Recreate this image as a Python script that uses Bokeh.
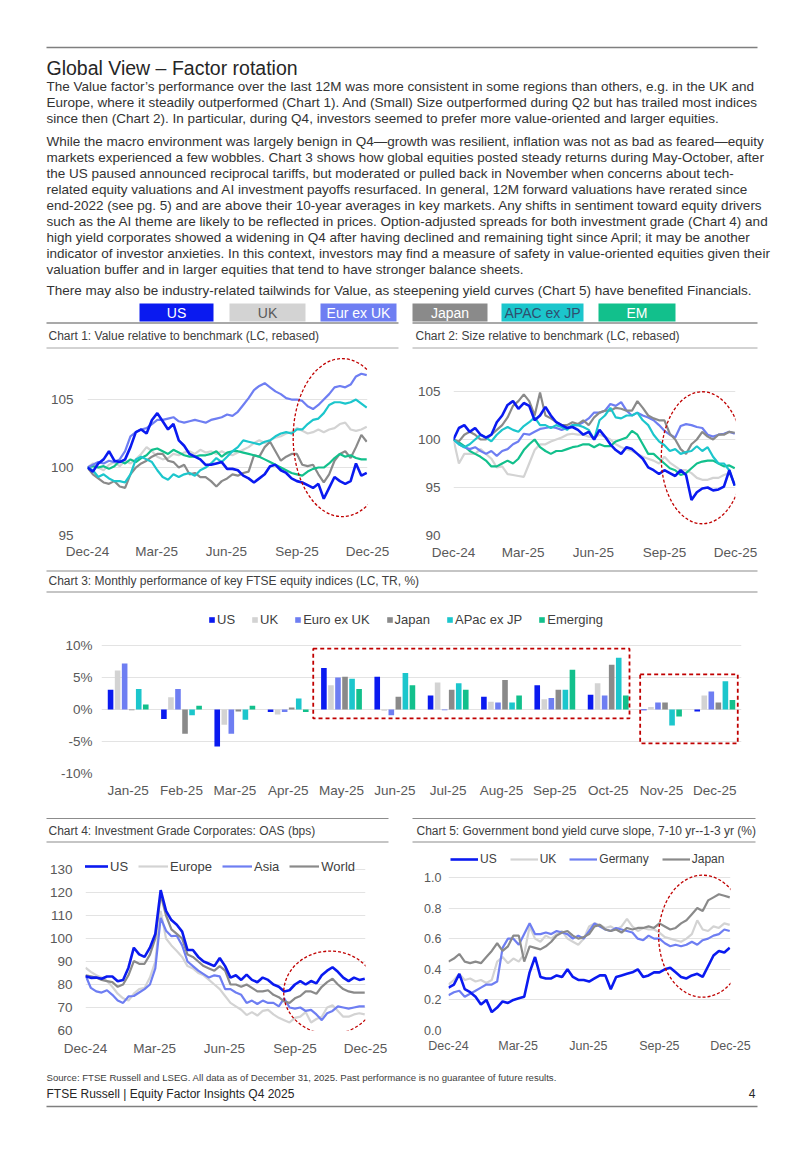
import datetime as dt
import pandas as pd
from bokeh.plotting import figure
from bokeh.layouts import column, row
from bokeh.models import (Range1d, FixedTicker, DatetimeTickFormatter, Legend, LegendItem,
                          BoxAnnotation, ColumnDataSource, FactorRange, PrintfTickFormatter)
from bokeh.transform import dodge
from bokeh.core.properties import value
from bokeh.embed import file_html
from bokeh.resources import INLINE

# ---------------------------------------------------------------- data
WEEKS = pd.date_range("2024-12-31", periods=53, freq="7D")
QTR_TICKS = ["2024-12-31", "2025-03-31", "2025-06-30", "2025-09-30", "2025-12-31"]

# Chart 1: Value relative to benchmark
US1 = [100.0, 99.7, 100.3, 100.6, 101.2, 100.5, 100.4, 100.6, 101.5, 102.6, 102.8, 102.5, 103.5, 104.0, 103.4, 102.8, 103.2, 102.0, 101.6, 101.0, 100.8, 100.6, 100.2, 100.2, 100.3, 100.4, 99.9, 99.9, 99.8, 99.4, 99.2, 98.9, 99.2, 99.5, 100.1, 100.2, 99.8, 99.6, 99.2, 99.0, 98.9, 98.7, 98.5, 98.8, 97.7, 98.5, 99.3, 99.0, 98.8, 99.0, 100.3, 99.4, 99.6]
UK1 = [100.0, 100.3, 100.0, 99.8, 100.2, 100.4, 100.1, 100.5, 100.3, 100.6, 101.0, 101.5, 101.2, 100.8, 100.6, 100.7, 101.0, 100.9, 101.1, 101.2, 101.0, 101.3, 101.1, 101.2, 101.0, 101.2, 101.0, 100.9, 101.1, 101.3, 101.5, 101.8, 102.0, 101.8, 102.0, 102.2, 102.3, 102.5, 102.6, 102.9, 102.7, 102.5, 102.6, 102.8, 102.6, 102.8, 102.9, 103.2, 103.3, 102.8, 102.7, 102.8, 103.0]
EUR1 = [100.0, 100.2, 100.4, 100.3, 100.5, 100.4, 100.6, 101.2, 102.3, 102.6, 102.8, 102.9, 103.2, 103.5, 103.5, 103.6, 103.7, 103.4, 103.3, 103.4, 103.5, 103.4, 103.3, 103.5, 103.6, 103.7, 103.9, 103.8, 104.1, 104.6, 105.1, 105.7, 106.0, 106.2, 105.9, 105.6, 105.4, 105.1, 105.0, 105.0, 104.9, 104.5, 104.3, 104.6, 105.0, 105.4, 105.9, 106.0, 105.9, 106.1, 106.7, 106.9, 106.8]
JPN1 = [100.0, 99.5, 99.2, 98.9, 98.8, 99.0, 98.6, 98.5, 99.5, 100.0, 100.3, 100.5, 100.8, 101.0, 101.0, 100.5, 100.4, 100.0, 100.2, 99.5, 99.6, 99.3, 99.3, 99.0, 98.6, 99.0, 99.2, 99.5, 99.4, 99.6, 99.7, 100.9, 100.8, 101.5, 101.9, 101.2, 100.5, 100.8, 101.0, 101.0, 100.2, 100.1, 100.2, 99.5, 98.9, 99.5, 100.5, 101.0, 101.2, 100.7, 101.5, 102.4, 101.9]
APAC1 = [100.0, 99.8, 99.3, 99.5, 99.2, 99.0, 99.0, 98.9, 99.5, 100.6, 100.8, 100.6, 100.4, 99.8, 99.3, 99.1, 99.5, 99.3, 99.5, 99.6, 99.4, 99.8, 100.0, 100.3, 100.7, 100.4, 100.8, 101.2, 101.5, 102.0, 101.9, 101.8, 101.7, 101.9, 102.0, 102.3, 102.5, 102.6, 102.5, 102.8, 102.8, 103.2, 103.5, 103.6, 104.0, 104.6, 104.8, 104.8, 104.7, 104.8, 105.0, 104.7, 104.4]
EM1 = [100.0, 100.1, 100.0, 100.1, 99.9, 100.1, 100.5, 100.3, 100.6, 100.4, 100.7, 100.9, 101.3, 101.4, 101.2, 101.0, 101.3, 101.1, 100.9, 100.8, 100.8, 100.9, 100.9, 101.0, 101.2, 100.8, 101.1, 101.2, 101.2, 101.1, 101.0, 100.9, 100.8, 100.6, 100.4, 100.2, 100.0, 99.8, 99.6, 99.5, 99.4, 99.7, 99.9, 100.0, 100.0, 100.3, 100.7, 101.0, 100.8, 100.9, 100.7, 100.6, 100.6]

# Chart 2: Size relative to benchmark
US2 = [100.0, 101.2, 101.5, 100.8, 101.2, 100.5, 100.2, 100.5, 101.8, 102.5, 103.6, 104.0, 103.2, 103.8, 103.5, 102.0, 102.5, 103.4, 102.5, 101.8, 101.5, 101.2, 101.3, 101.0, 100.5, 100.8, 100.0, 101.0, 100.3, 99.5, 98.9, 98.5, 99.2, 99.0, 98.5, 98.0, 97.1, 96.8, 96.4, 96.8, 96.5, 96.2, 96.8, 96.3, 93.7, 94.5, 94.9, 95.0, 94.7, 94.8, 95.1, 96.8, 95.2]
UK2 = [100.0, 97.5, 98.5, 98.5, 98.5, 99.0, 98.5, 98.0, 97.1, 97.2, 96.4, 96.3, 96.2, 96.1, 97.5, 98.9, 99.5, 99.5, 99.8, 100.0, 100.2, 100.5, 100.6, 100.5, 100.5, 100.3, 100.2, 100.5, 100.3, 100.0, 99.5, 99.2, 99.0, 98.8, 98.5, 98.2, 98.0, 97.8, 97.5, 98.2, 97.6, 97.2, 96.8, 96.8, 96.5, 96.0, 95.8, 95.8, 96.0, 96.0, 96.3, 96.5, 95.4]
EUR2 = [100.0, 99.5, 99.2, 99.0, 99.2, 98.8, 98.5, 98.8, 98.3, 98.8, 99.0, 99.5, 99.8, 100.6, 100.5, 100.8, 101.1, 101.2, 101.3, 101.2, 101.0, 101.2, 101.5, 101.5, 101.8, 102.2, 102.8, 102.8, 103.0, 103.7, 103.5, 103.9, 103.0, 102.5, 102.8, 102.5, 102.3, 102.0, 101.5, 100.9, 100.5, 100.2, 101.4, 101.6, 101.5, 101.3, 101.2, 100.5, 100.3, 100.5, 100.6, 100.8, 100.6]
JPN2 = [100.0, 99.8, 100.5, 100.8, 100.5, 100.0, 100.0, 100.5, 101.0, 101.5, 102.3, 103.5, 104.0, 104.7, 104.0, 102.5, 104.9, 102.5, 102.2, 101.8, 101.5, 101.5, 101.8, 101.6, 102.0, 101.5, 102.3, 102.8, 103.0, 103.0, 103.3, 103.2, 103.0, 103.0, 104.0, 103.3, 102.5, 102.2, 102.0, 102.0, 100.6, 100.0, 99.0, 98.5, 99.5, 100.0, 100.8, 100.3, 100.0, 100.5, 100.5, 100.8, 100.7]
APAC2 = [100.0, 99.5, 99.2, 99.5, 100.0, 100.5, 100.2, 99.8, 100.5, 101.0, 101.3, 101.0, 100.8, 101.4, 101.8, 102.3, 101.5, 101.5, 101.2, 101.5, 101.3, 101.0, 101.5, 101.5, 101.3, 101.0, 100.0, 102.0, 102.5, 103.3, 102.3, 102.2, 102.5, 102.5, 102.8, 102.0, 101.5, 100.5, 99.8, 99.4, 98.8, 99.0, 98.5, 98.7, 98.8, 99.3, 98.8, 99.2, 98.2, 97.5, 97.5, 96.8, 95.2]
EM2 = [100.0, 99.7, 99.3, 98.8, 98.5, 98.2, 97.8, 97.2, 97.2, 97.5, 97.8, 97.5, 98.0, 98.9, 99.5, 100.0, 99.2, 98.8, 98.5, 98.8, 98.8, 99.0, 99.2, 99.3, 99.5, 99.5, 99.2, 99.5, 99.3, 99.3, 99.8, 100.0, 100.2, 100.9, 100.5, 99.5, 98.5, 98.5, 98.0, 97.5, 97.0, 96.8, 96.3, 96.5, 97.0, 97.5, 97.7, 97.8, 97.8, 97.5, 97.2, 97.3, 97.0]

# Chart 3: monthly performance (%)
MONTHS = ["Jan-25", "Feb-25", "Mar-25", "Apr-25", "May-25", "Jun-25",
          "Jul-25", "Aug-25", "Sep-25", "Oct-25", "Nov-25", "Dec-25"]
US3 = [3.1, -1.5, -5.8, -0.4, 6.5, 5.1, 2.2, 2.0, 3.8, 2.3, -0.1, -0.3]
UK3 = [6.1, 1.9, -2.4, -0.8, 3.8, -0.2, 4.2, 1.2, 1.6, 4.1, 0.4, 2.2]
EUR3 = [7.2, 3.2, -3.8, -0.4, 5.0, -0.9, -0.1, 1.1, 1.8, 2.2, 1.1, 2.8]
JPN3 = [-0.1, -3.8, -0.3, 0.3, 5.1, 2.0, 3.1, 4.6, 3.1, 7.0, 1.1, 1.1]
APAC3 = [3.2, -0.9, -1.6, 1.7, 4.8, 5.7, 4.1, 1.1, 3.1, 8.1, -2.5, 4.4]
EM3 = [0.8, 0.6, 0.6, -0.4, 3.2, 3.8, 3.1, 2.2, 6.2, 2.2, -1.1, 1.5]

# Chart 4: IG OAS (bps)
US4 = [83.6, 82.9, 83.0, 82.5, 83.5, 83.5, 81.4, 82.0, 87.3, 96.0, 93.1, 92.0, 96.0, 102.0, 121.0, 112.0, 108.0, 106.0, 103.0, 95.0, 95.0, 92.0, 90.0, 89.0, 88.0, 91.5, 88.0, 83.0, 84.0, 82.0, 84.3, 82.0, 81.0, 83.0, 82.0, 80.0, 79.0, 77.0, 77.5, 80.0, 81.5, 80.0, 81.5, 80.5, 84.0, 86.0, 87.5, 85.5, 83.0, 81.5, 83.0, 82.0, 82.5]
EUROPE4 = [87.3, 85.5, 84.0, 83.0, 81.5, 79.0, 76.0, 74.0, 73.0, 76.0, 78.0, 78.5, 83.0, 90.0, 112.0, 100.0, 97.0, 94.6, 92.0, 88.0, 87.0, 85.0, 84.0, 82.0, 80.0, 78.0, 75.0, 72.0, 70.5, 69.0, 66.7, 68.0, 66.5, 68.5, 69.0, 67.0, 65.5, 64.5, 63.5, 65.5, 66.0, 68.0, 63.5, 65.0, 66.0, 70.0, 71.0, 68.5, 66.0, 66.0, 67.0, 67.5, 67.0]
ASIA4 = [84.0, 78.5, 77.0, 76.5, 77.5, 75.5, 73.0, 72.0, 74.8, 75.0, 76.5, 78.0, 80.0, 87.0, 109.0, 103.4, 101.0, 101.2, 97.0, 90.0, 88.0, 86.0, 84.5, 83.0, 84.0, 83.5, 78.0, 78.0, 76.5, 75.5, 72.0, 73.0, 71.5, 73.0, 72.0, 72.0, 70.5, 74.0, 70.0, 69.5, 70.0, 68.5, 69.0, 67.0, 64.5, 67.5, 68.5, 70.5, 70.0, 69.5, 70.0, 70.5, 70.5]
WORLD4 = [84.0, 83.5, 83.0, 82.0, 81.5, 81.0, 79.0, 80.0, 84.0, 90.2, 89.0, 89.0, 93.0, 100.0, 119.0, 110.0, 104.0, 102.0, 100.0, 93.0, 92.0, 90.0, 88.0, 87.0, 86.0, 88.0, 86.0, 80.0, 80.0, 79.0, 80.0, 78.5, 77.0, 77.0, 77.5, 75.5, 74.5, 72.6, 72.0, 74.0, 75.0, 77.0, 77.0, 76.0, 79.0, 81.0, 82.5, 80.0, 78.0, 77.0, 76.5, 76.5, 76.5]

# Chart 5: yield curve slope (%)
US5 = [0.28, 0.30, 0.37, 0.27, 0.25, 0.22, 0.17, 0.20, 0.12, 0.15, 0.19, 0.18, 0.20, 0.21, 0.22, 0.38, 0.48, 0.35, 0.34, 0.34, 0.36, 0.35, 0.40, 0.35, 0.33, 0.33, 0.32, 0.34, 0.36, 0.36, 0.27, 0.35, 0.36, 0.37, 0.38, 0.40, 0.35, 0.36, 0.38, 0.38, 0.40, 0.41, 0.38, 0.35, 0.34, 0.36, 0.37, 0.35, 0.42, 0.49, 0.52, 0.51, 0.54]
UK5 = [0.30, 0.33, 0.37, 0.33, 0.34, 0.32, 0.33, 0.31, 0.33, 0.45, 0.48, 0.44, 0.47, 0.45, 0.50, 0.68, 0.60, 0.58, 0.62, 0.60, 0.63, 0.65, 0.60, 0.58, 0.56, 0.60, 0.68, 0.70, 0.69, 0.67, 0.68, 0.66, 0.68, 0.73, 0.68, 0.65, 0.67, 0.66, 0.66, 0.64, 0.61, 0.60, 0.59, 0.58, 0.60, 0.63, 0.72, 0.66, 0.65, 0.68, 0.67, 0.70, 0.69]
GER5 = [0.23, 0.25, 0.26, 0.22, 0.24, 0.26, 0.28, 0.30, 0.30, 0.32, 0.54, 0.60, 0.60, 0.56, 0.63, 0.70, 0.63, 0.63, 0.64, 0.63, 0.65, 0.64, 0.63, 0.60, 0.62, 0.60, 0.65, 0.70, 0.68, 0.66, 0.65, 0.67, 0.66, 0.65, 0.64, 0.60, 0.59, 0.62, 0.60, 0.60, 0.57, 0.55, 0.56, 0.55, 0.56, 0.58, 0.56, 0.59, 0.60, 0.62, 0.63, 0.66, 0.65]
JPN5 = [0.45, 0.47, 0.50, 0.45, 0.44, 0.45, 0.44, 0.48, 0.52, 0.57, 0.52, 0.55, 0.62, 0.62, 0.45, 0.55, 0.54, 0.53, 0.55, 0.58, 0.62, 0.64, 0.65, 0.62, 0.60, 0.61, 0.63, 0.68, 0.69, 0.66, 0.65, 0.66, 0.64, 0.67, 0.66, 0.67, 0.67, 0.68, 0.67, 0.70, 0.68, 0.66, 0.67, 0.70, 0.72, 0.76, 0.80, 0.78, 0.85, 0.87, 0.89, 0.88, 0.87]

REGIONS = ["US", "UK", "Eur ex UK", "Japan", "APAC ex JP", "EM"]
BAR_LABELS = ["US", "UK", "Euro ex UK", "Japan", "APac ex JP", "Emerging"]

# ---------------------------------------------------------------- styles
FONT = "Liberation Sans"
C_US, C_UK, C_EUR, C_JPN, C_APAC, C_EM = "#0A1AF0", "#D3D3D3", "#6E7EF2", "#8A8A8A", "#1CC6CC", "#12C08C"
COLORS = [C_US, C_UK, C_EUR, C_JPN, C_APAC, C_EM]
RED = "#C00000"
TXT = "#333333"
TICK = "#595959"
X_START = dt.datetime(2024, 12, 31)
X_END = dt.datetime(2025, 12, 31)
QTR_MS = [pd.Timestamp(t).value / 1e6 for t in QTR_TICKS]


def page_fig(x0, x1, y0, y1):
    p = figure(width=x1 - x0, height=y1 - y0, x_range=Range1d(x0, x1), y_range=Range1d(y1, y0),
               x_axis_type=None, y_axis_type=None, output_backend="svg", toolbar_location=None,
               min_border_left=0, min_border_right=0, min_border_top=0, min_border_bottom=0)
    p.outline_line_color = None
    return p


def put_text(p, xs, ys, texts, size, color=TXT, font=FONT, align="left"):
    p.text(x=xs, y=ys, text=texts, text_font=value(font), text_font_size=size,
           text_color=color, text_align=align, text_baseline="middle")


def hline(p, x0, x1, y, color="#8C8C8C", w=1.2):
    p.line(x=[x0, x1], y=[y, y], line_color=color, line_width=w)


def style_axes(p, size, ystand, xstand):
    for ax in p.axis:
        ax.axis_line_color = None
        ax.major_tick_line_color = None
        ax.minor_tick_line_color = None
        ax.major_tick_out = 0
        ax.major_tick_in = 0
        ax.major_label_text_font = FONT
        ax.major_label_text_font_size = size
        ax.major_label_text_color = TICK
    p.yaxis.major_label_standoff = ystand
    p.xaxis.major_label_standoff = xstand


def line_chart(width, height, l, r, t, b, y0, y1, yticks, series, ell, size, ystand, xstand):
    p = figure(width=width, height=height, x_axis_type="datetime",
               x_range=Range1d(X_START, X_END), y_range=Range1d(y0, y1),
               output_backend="svg", toolbar_location=None,
               min_border_left=l, min_border_right=r, min_border_top=t, min_border_bottom=b)
    p.outline_line_color = None
    p.xgrid.visible = False
    p.ygrid.grid_line_color = "#E3E3E3"
    p.yaxis.ticker = FixedTicker(ticks=yticks)
    p.xaxis.ticker = FixedTicker(ticks=QTR_MS)
    p.xaxis.formatter = DatetimeTickFormatter(days="%b-%y", months="%b-%y", years="%b-%y")
    style_axes(p, size, ystand, xstand)
    rends = {}
    for name, vals, color, lw in series:
        rends[name] = p.line(x=WEEKS, y=vals, line_color=color, line_width=lw)
    ex, ey, ew, eh = ell
    p.ellipse(x=[ex], y=[ey], width=ew, height=eh, width_units="screen", height_units="screen",
              fill_color=None, line_color=RED, line_dash="3 2", line_width=1.3)
    return p, rends


# ---------------------------------------------------------------- header
hdr = page_fig(0, 800, 0, 350)
hline(hdr, 46, 757, 47, "#7F7F7F", 1.5)
put_text(hdr, [46], [67], ["Global View \u2013 Factor rotation"], "19.5px", "#262626")
para = [
    (86, "The Value factor\u2019s performance over the last 12M was more consistent in some regions than others, e.g. in the UK and"),
    (102, "Europe, where it steadily outperformed (Chart 1). And (Small) Size outperformed during Q2 but has trailed most indices"),
    (118, "since then (Chart 2). In particular, during Q4, investors seemed to prefer more value-oriented and larger equities."),
    (141, "While the macro environment was largely benign in Q4\u2014growth was resilient, inflation was not as bad as feared\u2014equity"),
    (157, "markets experienced a few wobbles. Chart 3 shows how global equities posted steady returns during May-October, after"),
    (173, "the US paused announced reciprocal tariffs, but moderated or pulled back in November when concerns about tech-"),
    (189, "related equity valuations and AI investment payoffs resurfaced. In general, 12M forward valuations have rerated since"),
    (205, "end-2022 (see pg. 5) and are above their 10-year averages in key markets. Any shifts in sentiment toward equity drivers"),
    (221, "such as the AI theme are likely to be reflected in prices. Option-adjusted spreads for both investment grade (Chart 4) and"),
    (237, "high yield corporates showed a widening in Q4 after having declined and remaining tight since April; it may be another"),
    (253, "indicator of investor anxieties. In this context, investors may find a measure of safety in value-oriented equities given their"),
    (269, "valuation buffer and in larger equities that tend to have stronger balance sheets."),
    (290, "There may also be industry-related tailwinds for Value, as steepening yield curves (Chart 5) have benefited Financials."),
]
put_text(hdr, [46] * len(para), [y for y, _ in para], [s for _, s in para], "13.5px")

box_l = [139, 229, 320, 412, 501, 598]
box_r = [213, 305, 396, 487, 583, 675]
box_txt = ["#FFFFFF", "#595959", "#FFFFFF", "#FFFFFF", "#2F4F6F", "#FFFFFF"]
hdr.quad(left=box_l, right=box_r, top=[303] * 6, bottom=[321] * 6, fill_color=COLORS, line_color=None)
hdr.text(x=[(a + b) / 2 for a, b in zip(box_l, box_r)], y=[312.5] * 6, text=REGIONS,
         text_font=value(FONT), text_font_size="14px", text_color=box_txt,
         text_align="center", text_baseline="middle")
hline(hdr, 46, 398, 322.5, "#8C8C8C", 1.5)
hline(hdr, 412, 757, 322.5, "#8C8C8C", 1.5)
put_text(hdr, [48, 415], [335, 335],
         ["Chart 1: Value relative to benchmark (LC, rebased)",
          "Chart 2: Size relative to benchmark (LC, rebased)"], "12px", "#404040")
hline(hdr, 46, 398, 347.5, "#A6A6A6", 1)
hline(hdr, 412, 757, 347.5, "#A6A6A6", 1)

# ---------------------------------------------------------------- charts 1 & 2
s1 = [("UK", UK1, C_UK, 2.2), ("Japan", JPN1, C_JPN, 2.2), ("EM", EM1, C_EM, 2.2),
      ("APAC", APAC1, C_APAC, 2.2), ("Eur", EUR1, C_EUR, 2.2), ("US", US1, C_US, 2.6)]
p1, _ = line_chart(408, 218, 87, 41, 5, 33, 95, 108.24, [95, 100, 105], s1,
                   (dt.datetime(2025, 11, 28), 102.2, 98, 158), "13.5px", 14, 8)

s2 = [("UK", UK2, C_UK, 2.2), ("EM", EM2, C_EM, 2.2), ("Eur", EUR2, C_EUR, 2.2),
      ("Japan", JPN2, C_JPN, 2.2), ("APAC", APAC2, C_APAC, 2.2), ("US", US2, C_US, 2.6)]
p2, _ = line_chart(392, 218, 45, 65, 5, 33, 90, 108.75, [90, 95, 100, 105], s2,
                   (dt.datetime(2025, 11, 18), 98.1, 82, 132), "13.5px", 13, 9)

# ---------------------------------------------------------------- chart 3 header
mid = page_fig(0, 800, 568, 596)
hline(mid, 46, 757, 570.5, "#8C8C8C", 1.2)
put_text(mid, [48], [580.5], ["Chart 3: Monthly performance of key FTSE equity indices (LC, TR, %)"], "12px", "#404040")
hline(mid, 46, 757, 591.5, "#8C8C8C", 1.2)

# ---------------------------------------------------------------- chart 3
src3 = ColumnDataSource(dict(month=MONTHS, us=US3, uk=UK3, eur=EUR3, jpn=JPN3, apac=APAC3, em=EM3))
p3 = figure(width=800, height=209, x_range=FactorRange(factors=MONTHS), y_range=Range1d(-10, 17.03),
            output_backend="svg", toolbar_location=None,
            min_border_left=101, min_border_right=59, min_border_top=4, min_border_bottom=32)
p3.outline_line_color = None
p3.xgrid.visible = False
p3.ygrid.grid_line_color = "#E3E3E3"
p3.yaxis.ticker = FixedTicker(ticks=[-10, -5, 0, 5, 10])
p3.yaxis.formatter = PrintfTickFormatter(format="%d%%")
style_axes(p3, "13.5px", 9, 9)
items3 = []
for i, (key, lab, col) in enumerate(zip(["us", "uk", "eur", "jpn", "apac", "em"], BAR_LABELS, COLORS)):
    r = p3.vbar(x=dodge("month", (i - 2.5) * 0.132, range=p3.x_range), top=key, width=0.105,
                source=src3, fill_color=col, line_color=None)
    items3.append(LegendItem(label=lab, renderers=[r]))
p3.add_layout(BoxAnnotation(left=3.97, right=9.9, top=9.5, bottom=-1.4, fill_alpha=0,
                            line_color=RED, line_alpha=1, line_dash="4 3", line_width=1.8))
p3.add_layout(BoxAnnotation(left=10.1, right=11.93, top=5.5, bottom=-5.3, fill_alpha=0,
                            line_color=RED, line_alpha=1, line_dash="4 3", line_width=1.8))
leg3 = Legend(items=items3, location=(107, 146), orientation="horizontal",
              label_text_font=FONT, label_text_font_size="13px", label_text_color="#404040",
              glyph_width=7, glyph_height=7, label_standoff=2, spacing=16, padding=0, margin=0,
              label_width=0, border_line_color=None, background_fill_alpha=0)
p3.add_layout(leg3)

# ---------------------------------------------------------------- charts 4/5 header
h45 = page_fig(0, 800, 805, 846)
hline(h45, 46, 388, 818, "#8C8C8C", 1.2)
hline(h45, 412, 755, 818, "#8C8C8C", 1.2)
put_text(h45, [48, 416], [830, 830],
         ["Chart 4: Investment Grade Corporates: OAS (bps)",
          "Chart 5: Government bond yield curve slope, 7-10 yr--1-3 yr (%)"], "12px", "#404040")
hline(h45, 46, 388, 841.5, "#8C8C8C", 1.2)
hline(h45, 412, 755, 841.5, "#8C8C8C", 1.2)

# ---------------------------------------------------------------- chart 4
s4 = [("Europe", EUROPE4, C_UK, 2.2), ("Asia", ASIA4, C_EUR, 2.2),
      ("World", WORLD4, C_JPN, 2.2), ("US", US4, C_US, 2.6)]
p4, r4 = line_chart(408, 219, 85, 43, 4, 35, 60, 138.26, [60, 70, 80, 90, 100, 110, 120, 130], s4,
                    (dt.datetime(2025, 11, 15), 76.5, 93, 83), "13.5px", 13, 10)
leg4 = Legend(items=[LegendItem(label=n, renderers=[r4[n]]) for n in ["US", "Europe", "Asia", "World"]],
              location=(-7, 154), orientation="horizontal",
              label_text_font=FONT, label_text_font_size="13px", label_text_color="#404040",
              glyph_width=30, glyph_height=20, label_standoff=2, spacing=10, padding=0, margin=0,
              label_width=0, border_line_color=None, background_fill_color="white", background_fill_alpha=1)
p4.add_layout(leg4)

# ---------------------------------------------------------------- chart 5
s5 = [("UK", UK5, C_UK, 2.2), ("Germany", GER5, C_EUR, 2.2),
      ("Japan", JPN5, C_JPN, 2.2), ("US", US5, C_US, 2.6)]
p5, r5 = line_chart(392, 219, 40, 70, 4, 35, 0, 1.176, [0.0, 0.2, 0.4, 0.6, 0.8, 1.0], s5,
                    (dt.datetime(2025, 11, 25), 0.616, 88, 122), "12.5px", 7, 8)
p5.yaxis.formatter = PrintfTickFormatter(format="%.1f")
leg5 = Legend(items=[LegendItem(label=n, renderers=[r5[n]]) for n in ["US", "UK", "Germany", "Japan"]],
              location=(2, 161), orientation="horizontal",
              label_text_font=FONT, label_text_font_size="12px", label_text_color="#404040",
              glyph_width=28, glyph_height=20, label_standoff=2, spacing=13, padding=0, margin=0,
              label_width=0, border_line_color=None, background_fill_color="white", background_fill_alpha=1)
p5.add_layout(leg5)

# ---------------------------------------------------------------- footer
ftr = page_fig(0, 800, 1065, 1150)
put_text(ftr, [46], [1077], ["Source: FTSE Russell and LSEG. All data as of December 31, 2025. Past performance is no guarantee of future results."], "9.6px", "#404040")
put_text(ftr, [46], [1093], ["FTSE Russell | Equity Factor Insights Q4 2025"], "12px", "#262626")
put_text(ftr, [755], [1093], ["4"], "12px", "#262626", align="right")
hline(ftr, 46, 757, 1106, "#7F7F7F", 1.5)

layout = column(row(hdr), row(p1, p2), row(mid), row(p3), row(h45), row(p4, p5), row(ftr))
open("out.html", "w").write(file_html(layout, INLINE, title="Global View - Factor rotation"))
